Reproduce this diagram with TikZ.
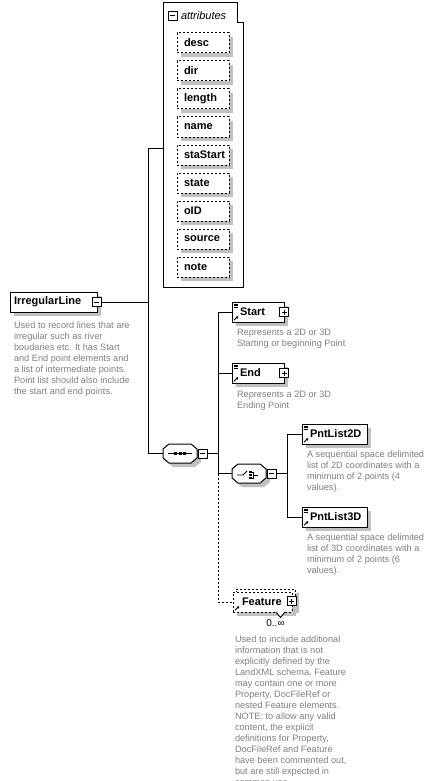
\documentclass[tikz,border=0pt]{standalone}
\usepackage{fontspec}
\setmainfont{Liberation Sans}
\usetikzlibrary{shadows,arrows.meta}
\definecolor{shadowgray}{RGB}{192,192,192}
\definecolor{descgray}{RGB}{128,128,128}
\tikzset{
  pics/simpleicon/.style={code={
    \draw[line width=0.6pt] (1.5,1.8) -- (6,1.8) (1.5,3.3) -- (6,3.3) (1.5,4.8) -- (6,4.8);
  }},
  pics/refarrow/.style={code={
    \draw[line width=0.9pt,-{Stealth[length=2.6pt,width=2.8pt]}] (2,-1.8) -- (6.2,-5.8);
  }},
  pics/octagon/.style={code={
    \fill[shadowgray] (-13,-0.5) -- (-7,-5.5) -- (15,-5.5) -- (21,-0.5) -- (21,8.5) -- (15,13.5) -- (-7,13.5) -- (-13,8.5) -- cycle;
    \draw[line width=1pt, fill=white] (-17,-4.5) -- (-11,-9.5) -- (11,-9.5) -- (17,-4.5) -- (17,4.5) -- (11,9.5) -- (-11,9.5) -- (-17,4.5) -- cycle;
  }}
}
\begin{document}
\begin{tikzpicture}[x=1pt,y=-1pt,
  every node/.style={inner sep=0pt, outer sep=0pt},
  conn/.style={draw=black, line width=1pt},
  dconn/.style={conn, dash pattern=on 2pt off 2pt},
  shad/.style={drop shadow={fill=shadowgray, opacity=1, shadow xshift=4pt, shadow yshift=-4pt}},
  labfont/.style={font=\fontsize{11}{13}\selectfont\bfseries},
  attrbox/.style={draw, fill=white, line width=1pt, dash pattern=on 2pt off 2pt, shad,
    minimum height=20pt, text width=38pt, inner xsep=7pt, align=left, labfont},
  elbox/.style={draw, fill=white, line width=1pt, shad, minimum height=20pt,
    inner xsep=8pt, align=left, labfont},
  togglebox/.style={draw, fill=white, line width=0.9pt, minimum size=9pt},
  minusbox/.style={togglebox, path picture={
    \draw[line width=0.9pt] ([xshift=2pt]path picture bounding box.west) -- ([xshift=-2pt]path picture bounding box.east);}},
  plusbox/.style={togglebox, path picture={
    \draw[line width=0.9pt] ([xshift=2pt]path picture bounding box.west) -- ([xshift=-2pt]path picture bounding box.east)
      ([yshift=-2pt]path picture bounding box.north) -- ([yshift=2pt]path picture bounding box.south);}},
  compositor/.style={minimum width=34pt, minimum height=19pt},
  desc/.style={anchor=north west, align=left, text=descgray, font=\fontsize{9.2}{11}\selectfont},
]
\useasboundingbox (0,0) rectangle (435,781);
\clip (0,0) rectangle (435,781);
\fill[white] (0,0) rectangle (435,781);

% ---------- attributes container ----------
\draw[line width=1pt, fill=white] (163,3) -- (237,3) -- (237,23) -- (243,23) -- (243,287) -- (163,287) -- cycle;
\node[minusbox] (tattr) at (172.5,15.5) {};
\node[anchor=west, font=\fontsize{11}{13}\selectfont\itshape] (attrtitle) at (181,16) {attributes};
\coordinate (cont) at (163,148);
\foreach \n [count=\i from 0] in {desc,dir,length,name,staStart,state,oID,source,note}
  \node[attrbox, anchor=west] (a\n) at (177,{43+28*\i}) {\n};

% ---------- IrregularLine ----------
\node[elbox, anchor=west, text width=79pt, inner xsep=4pt] (il) at (10,302) {IrregularLine};
\node[minusbox] (til) at (96.5,302) {};
\node[desc] (ildesc) at (14,322) {Used to record lines that are\\irregular such as river\\boudaries etc. It has Start\\and End point elements and\\a list of intermediate points.\\Point list should also include\\the start and end points.};

\coordinate (jA) at (148,148);
\coordinate (jS) at (148,453.5);
\draw[conn] (til.east) -- (til.east -| jA);
\draw[conn] (cont) -- (jA) -- (jS);

% ---------- sequence ----------
\node[compositor] (seq) at (180,453.5) {};
\pic at (seq.center) {octagon};
\draw[line width=1pt] ([xshift=5pt]seq.west) -- ([xshift=-5pt]seq.east);
\foreach \dx in {-4.5,0,4.5}
  \fill ([xshift=\dx pt]seq.center) +(-1.5,-1.5) rectangle +(1.5,1.5);
\node[minusbox] (tseq) at (202.5,453.5) {};
\draw[conn] (jS) -- (seq.west);

\coordinate (jB1) at (218,312);
\coordinate (jB2) at (218,473.5);
\coordinate (jB3) at (218,602);
\draw[conn] (tseq.east) -- (tseq.east -| jB1);
\draw[conn] (jB1) -- (jB2);
\draw[dconn] (jB2) -- (jB3);

% ---------- Start / End ----------
\node[elbox, anchor=west, text width=36pt] (start) at (232,312) {Start};
\pic at (start.north west) {simpleicon};
\pic at (start.south west) {refarrow};
\node[plusbox] (tstart) at (284,312) {};
\node[desc] (startdesc) at (237,329) {Represents a 2D or 3D\\Starting or beginning Point};
\draw[conn] (jB1) -- (start.west);

\node[elbox, anchor=west, text width=36pt] (end) at (232,373) {End};
\pic at (end.north west) {simpleicon};
\pic at (end.south west) {refarrow};
\node[plusbox] (tend) at (284,373) {};
\node[desc] (enddesc) at (237,391) {Represents a 2D or 3D\\Ending Point};
\draw[conn] (jB1 |- end.west) -- (end.west);

% ---------- choice ----------
\node[compositor] (choice) at (249,473.5) {};
\pic at (choice.center) {octagon};
\draw[line width=0.9pt] (237,475) -- (243,475) -- (247,471);
\foreach \dy in {-3,0,3}
  \fill (250.5,{475+\dy}) +(-1.2,-1.2) rectangle +(1.2,1.2);
\draw[line width=0.9pt] (250.5,472) -- (253.5,472) -- (253.5,478) -- (250.5,478) (253.5,475) -- (258,475);
\node[minusbox] (tch) at (271.5,473.5) {};
\draw[conn] (jB2) -- (choice.west);
\draw[conn] (choice.east) -- (tch.west);

\coordinate (jC1) at (287,434);
\coordinate (jC2) at (287,517);
\draw[conn] (tch.east) -- (tch.east -| jC1);
\draw[conn] (jC1) -- (jC2);

\node[elbox, anchor=west, text width=49pt] (p2) at (302,434) {PntList2D};
\pic at (p2.north west) {simpleicon};
\pic at (p2.south west) {refarrow};
\node[desc] (p2desc) at (307,451) {A sequential space delimited\\list of 2D coordinates with a\\minimum of 2 points (4\\values).};
\draw[conn] (jC1) -- (p2.west);

\node[elbox, anchor=west, text width=49pt] (p3) at (302,517) {PntList3D};
\pic at (p3.north west) {simpleicon};
\pic at (p3.south west) {refarrow};
\node[desc] (p3desc) at (307,534) {A sequential space delimited\\list of 3D coordinates with a\\minimum of 2 points (6\\values).};
\draw[conn] (jC2) -- (p3.west);

% ---------- Feature ----------
\node[draw, fill=white, line width=1pt, dash pattern=on 2pt off 2pt, shad,
  minimum width=59pt, minimum height=20pt] (featback) at (265.5,599) {};
\node[elbox, anchor=west, text width=41pt, inner xsep=9pt, dash pattern=on 2pt off 2pt] (feat) at (233,602) {Feature};
\pic at (feat.south west) {refarrow};
\node[plusbox] (tfeat) at (291.5,601) {};
\draw[line width=0.9pt, fill=white] (276,612) -- (280.5,617.5) -- (285,612);
\node[font=\fontsize{10}{12}\selectfont] (mult) at (275.5,623) {0..∞};
\draw[dconn] (jB3) -- (feat.west);
\node[desc] (featdesc) at (235,636) {Used to include additional\\information that is not\\explicitly defined by the\\LandXML schema, Feature\\may contain one or more\\Property, DocFileRef or\\nested Feature elements.\\NOTE: to allow any valid\\content, the explicit\\definitions for Property,\\DocFileRef and Feature\\have been commented out,\\but are still expected in\\common use.};
\end{tikzpicture}
\end{document}
